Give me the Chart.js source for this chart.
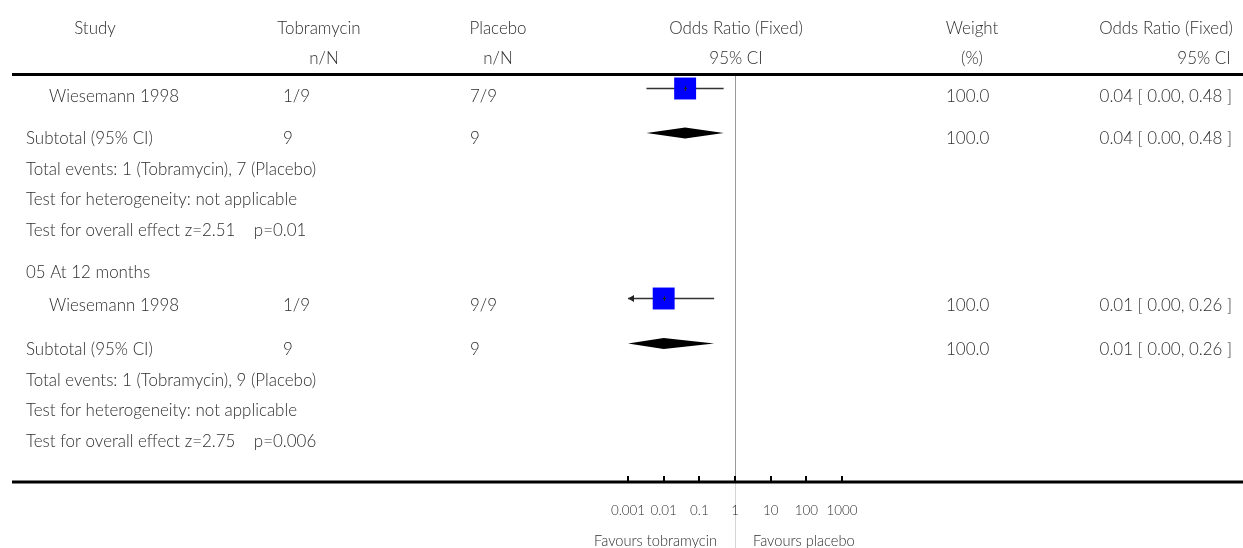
<!DOCTYPE html>
<html>
<head>
<meta charset="utf-8">
<script src="https://cdn.jsdelivr.net/npm/chart.js@4.4.1/dist/chart.umd.min.js"></script>
<style>
  html, body { margin: 0; padding: 0; background: #fff; }
  canvas { display: block; }
</style>
</head>
<body>
<canvas id="c" width="1243" height="548"></canvas>
<script>
// ---------------- data ----------------
const subgroupTitles = ['', '05 At 12 months'];
const studyNames = ['Wiesemann 1998', 'Wiesemann 1998'];
const tobEvents = [1, 1];
const tobTotals = [9, 9];
const plaEvents = [7, 9];
const plaTotals = [9, 9];
const studyOR = [0.04, 0.01];
const studyLower = [0.0033, 0.0004];
const studyUpper = [0.48, 0.26];
const studyWeight = [100.0, 100.0];
const subtotalOR = [0.04, 0.01];
const subtotalLower = [0.0033, 0.0004];
const subtotalUpper = [0.48, 0.26];
const subtotalWeight = [100.0, 100.0];
const zValues = ['2.51', '2.75'];
const pValues = ['0.01', '0.006'];
const tickValues = [0.001, 0.01, 0.1, 1, 10, 100, 1000];
const tickLabels = ['0.001', '0.01', '0.1', '1', '10', '100', '1000'];
const headerLine1 = ['Study', 'Tobramycin', 'Placebo', 'Odds Ratio (Fixed)', 'Weight', 'Odds Ratio (Fixed)'];
const headerLine2 = ['', 'n/N', 'n/N', '95% CI', '(%)', '95% CI'];
const favourLeft = 'Favours tobramycin';
const favourRight = 'Favours placebo';

// ---------------- layout (pixels) ----------------
const FAMILY = 'Lato, "Open Sans", sans-serif';
const WEIGHT = '300';
const TXT = '#2e2e2e';
const DY = 1.5;
const COL = { study: 26, studyIndent: 49, tob: 283, pla: 470, weight: 946, ciRight: 1232 };
const HEAD_X = [95, 319, 498, 736, 972, 1166];
const HEAD2_X = [0, 324, 498, 736, 972, 1204];
const HEAD_Y = [27, 57];
// rows per subgroup block: [title, study, subtotal, events, heterogeneity, overall]
const BLOCK_Y = [
  [null, 95, 137, 168, 198, 229],
  [271, 304, 348, 379, 409, 440]
];
const MARK_Y = [[88.5, 133], [298.5, 343.5]];
const AXIS_Y = 482, TOPLINE_Y = 74.5, TICKLABEL_Y = 509, FAVOUR_Y = 540;

const squares = studyOR.map((v, i) => ({ x: v, y: MARK_Y[i][0] }));

function fitSize(ctx, sample, target) {
  ctx.font = WEIGHT + ' 100px ' + FAMILY;
  return 100 * target / ctx.measureText(sample).width;
}

const forestPlugin = {
  id: 'forest',
  beforeDatasetsDraw(chart) {
    const ctx = chart.ctx;
    const xs = chart.scales.x, ys = chart.scales.y;
    ctx.save();
    // line of no effect
    const x1 = Math.round(xs.getPixelForValue(1)) + 0.5;
    ctx.strokeStyle = '#999';
    ctx.lineWidth = 1;
    ctx.beginPath(); ctx.moveTo(x1, 76); ctx.lineTo(x1, AXIS_Y); ctx.stroke();
    ctx.strokeStyle = '#d4d4d4';
    ctx.beginPath(); ctx.moveTo(x1, AXIS_Y); ctx.lineTo(x1, 548); ctx.stroke();
    // confidence intervals
    studyOR.forEach((v, i) => {
      const y = ys.getPixelForValue(MARK_Y[i][0]);
      const lo = Math.max(studyLower[i], xs.min), hi = Math.min(studyUpper[i], xs.max);
      const xl = xs.getPixelForValue(lo), xh = xs.getPixelForValue(hi);
      ctx.strokeStyle = '#333';
      ctx.lineWidth = 1.5;
      ctx.beginPath(); ctx.moveTo(xl, y); ctx.lineTo(xh, y); ctx.stroke();
      if (studyLower[i] < xs.min) {
        ctx.fillStyle = '#222';
        ctx.beginPath(); ctx.moveTo(xl, y); ctx.lineTo(xl + 6, y - 3.5); ctx.lineTo(xl + 6, y + 3.5); ctx.closePath(); ctx.fill();
      }
    });
    // subtotal diamonds
    subtotalOR.forEach((v, i) => {
      const y = ys.getPixelForValue(MARK_Y[i][1]);
      const xl = xs.getPixelForValue(Math.max(subtotalLower[i], xs.min));
      const xh = xs.getPixelForValue(Math.min(subtotalUpper[i], xs.max));
      const xc = xs.getPixelForValue(v);
      ctx.fillStyle = '#000';
      ctx.beginPath();
      ctx.moveTo(xl, y); ctx.lineTo(xc, y - 5.5); ctx.lineTo(xh, y); ctx.lineTo(xc, y + 5.5);
      ctx.closePath(); ctx.fill();
    });
    ctx.restore();
  },
  afterDatasetsDraw(chart) {
    const ctx = chart.ctx;
    const xs = chart.scales.x, ys = chart.scales.y;
    ctx.save();
    // centre marks on squares
    studyOR.forEach((v, i) => {
      const x = Math.round(xs.getPixelForValue(v)) + 0.5;
      const y = ys.getPixelForValue(MARK_Y[i][0]);
      ctx.strokeStyle = '#222'; ctx.lineWidth = 1;
      ctx.beginPath(); ctx.moveTo(x, y - 2.5); ctx.lineTo(x, y + 2.5); ctx.stroke();
      ctx.beginPath(); ctx.moveTo(x - 1.5, y); ctx.lineTo(x + 1.5, y); ctx.stroke();
    });
    // horizontal rules
    ctx.strokeStyle = '#000'; ctx.lineWidth = 3;
    ctx.beginPath(); ctx.moveTo(12, TOPLINE_Y); ctx.lineTo(1243, TOPLINE_Y); ctx.stroke();
    ctx.beginPath(); ctx.moveTo(12, AXIS_Y); ctx.lineTo(1243, AXIS_Y); ctx.stroke();
    // ticks
    ctx.lineWidth = 2;
    tickValues.forEach(t => {
      const x = Math.round(xs.getPixelForValue(t));
      ctx.beginPath(); ctx.moveTo(x, AXIS_Y - 6); ctx.lineTo(x, AXIS_Y); ctx.stroke();
    });

    const bodySize = fitSize(ctx, 'Test for heterogeneity: not applicable', 271);
    const tickSize = fitSize(ctx, '1000', 31);
    const favSize = fitSize(ctx, favourLeft, 123);
    // tick labels
    ctx.fillStyle = TXT;
    ctx.textBaseline = 'middle';
    ctx.textAlign = 'center';
    ctx.font = WEIGHT + ' ' + tickSize.toFixed(2) + 'px ' + FAMILY;
    tickValues.forEach((t, i) => ctx.fillText(tickLabels[i], xs.getPixelForValue(t), TICKLABEL_Y + DY));
    ctx.font = WEIGHT + ' ' + favSize.toFixed(2) + 'px ' + FAMILY;
    ctx.textAlign = 'right';
    ctx.fillText(favourLeft, xs.getPixelForValue(1) - 18, FAVOUR_Y + DY);
    ctx.textAlign = 'left';
    ctx.fillText(favourRight, xs.getPixelForValue(1) + 18, FAVOUR_Y + DY);

    // headers
    ctx.font = WEIGHT + ' ' + bodySize.toFixed(2) + 'px ' + FAMILY;
    ctx.textAlign = 'center';
    headerLine1.forEach((t, i) => ctx.fillText(t, HEAD_X[i], HEAD_Y[0] + DY));
    headerLine2.forEach((t, i) => { if (t) ctx.fillText(t, HEAD2_X[i], HEAD_Y[1] + DY); });

    // body rows
    const ciText = (o, l, h) => o.toFixed(2) + ' [ ' + l.toFixed(2) + ', ' + h.toFixed(2) + ' ]';
    studyNames.forEach((name, i) => {
      const r = BLOCK_Y[i].map(v => v === null ? null : v + DY);
      ctx.textAlign = 'left';
      if (subgroupTitles[i] && r[0] !== null) ctx.fillText(subgroupTitles[i], COL.study, r[0]);
      ctx.fillText(name, COL.studyIndent, r[1]);
      ctx.fillText(tobEvents[i] + '/' + tobTotals[i], COL.tob, r[1]);
      ctx.fillText(plaEvents[i] + '/' + plaTotals[i], COL.pla, r[1]);
      ctx.fillText(studyWeight[i].toFixed(1), COL.weight, r[1]);
      ctx.textAlign = 'right';
      ctx.fillText(ciText(studyOR[i], studyLower[i], studyUpper[i]), COL.ciRight, r[1]);
      ctx.textAlign = 'left';
      ctx.fillText('Subtotal (95% CI)', COL.study, r[2]);
      ctx.fillText(String(tobTotals[i]), COL.tob, r[2]);
      ctx.fillText(String(plaTotals[i]), COL.pla, r[2]);
      ctx.fillText(subtotalWeight[i].toFixed(1), COL.weight, r[2]);
      ctx.textAlign = 'right';
      ctx.fillText(ciText(subtotalOR[i], subtotalLower[i], subtotalUpper[i]), COL.ciRight, r[2]);
      ctx.textAlign = 'left';
      ctx.fillText('Total events: ' + tobEvents[i] + ' (Tobramycin), ' + plaEvents[i] + ' (Placebo)', COL.study, r[3]);
      ctx.fillText('Test for heterogeneity: not applicable', COL.study, r[4]);
      ctx.fillText('Test for overall effect z=' + zValues[i] + '    p=' + pValues[i], COL.study, r[5]);
    });
    ctx.restore();
  }
};

new Chart(document.getElementById('c'), {
  type: 'scatter',
  data: {
    datasets: [{
      data: squares,
      pointStyle: 'rect',
      pointRadius: 15.5,
      pointHoverRadius: 15.5,
      backgroundColor: '#0000ff',
      borderWidth: 0
    }]
  },
  options: {
    responsive: false,
    animation: false,
    events: [],
    layout: { autoPadding: false, padding: { left: 628, right: 401, top: 0, bottom: 0 } },
    plugins: { legend: { display: false }, tooltip: { enabled: false } },
    scales: {
      x: { type: 'logarithmic', min: 0.001, max: 1000, display: false },
      y: { type: 'linear', min: 0, max: 548, reverse: true, display: false }
    }
  },
  plugins: [forestPlugin]
});
</script>
</body>
</html>
